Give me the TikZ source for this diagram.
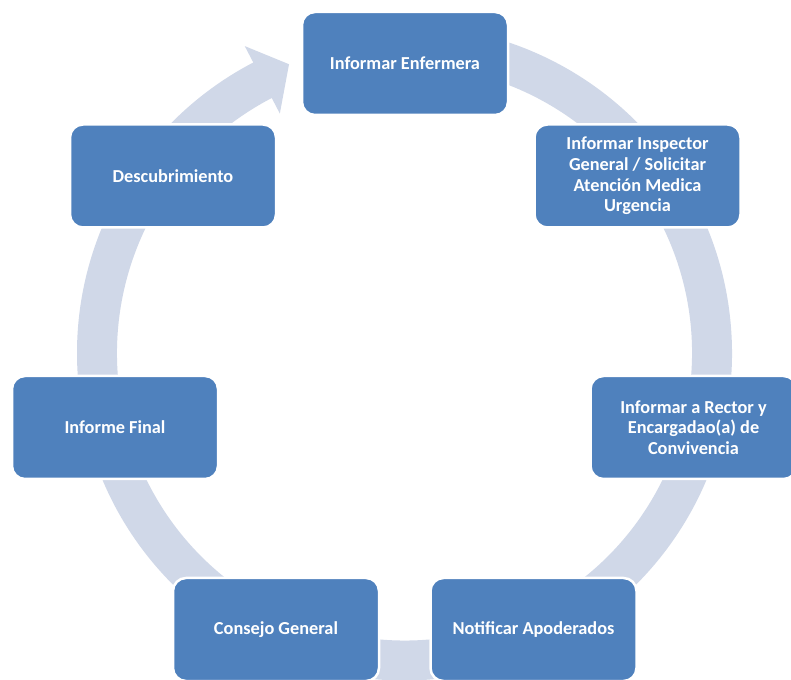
\documentclass[tikz,border=0pt]{standalone}
\usepackage{fontspec}
\setmainfont{Carlito}
\definecolor{boxblue}{HTML}{4F81BD}
\definecolor{ringcol}{HTML}{D0D8E8}
\tikzset{
  stepbox/.style={rectangle, rounded corners=13pt, fill=boxblue, draw=white, line width=2.5pt,
    minimum width=206pt, minimum height=103pt, inner sep=4pt,
    text=white, align=center, font=\fontsize{18.3}{20.7}\selectfont\bfseries},
  ring/.style={fill=ringcol}
}
\begin{document}
\begin{tikzpicture}[x=1pt,y=1pt]
\useasboundingbox (0,0) rectangle (791,679);
\clip (0,0) rectangle (791,679);
\fill[white] (0,0) rectangle (791,679);
% continuous ring with arrow head
\begin{scope}[shift={(404.5,326)}]
\fill[ring] (95:327.5) arc[start angle=95, end angle=-242.5, radius=327.5pt]
  -- (117.5:346) -- (111.8:311) -- (117.5:270) -- (117.5:287.5)
  arc[start angle=-242.5, end angle=95, radius=287.5pt] -- cycle;
\end{scope}
% boxes
\node[stepbox] (b1) at (405,615.5) {Informar Enfermera};
\node[stepbox] (b2) at (637.5,503) {Informar Inspector\\General / Solicitar\\Atención Medica\\Urgencia};
\node[stepbox] (b3) at (693.5,251.5) {Informar a Rector y\\Encargadao(a) de\\Convivencia};
\node[stepbox] (b4) at (533.5,49.5) {Notificar Apoderados};
\node[stepbox] (b5) at (276,49.5) {Consejo General};
\node[stepbox] (b6) at (115,251.5) {Informe Final};
\node[stepbox] (b7) at (173,503) {Descubrimiento};
\end{tikzpicture}
\end{document}
